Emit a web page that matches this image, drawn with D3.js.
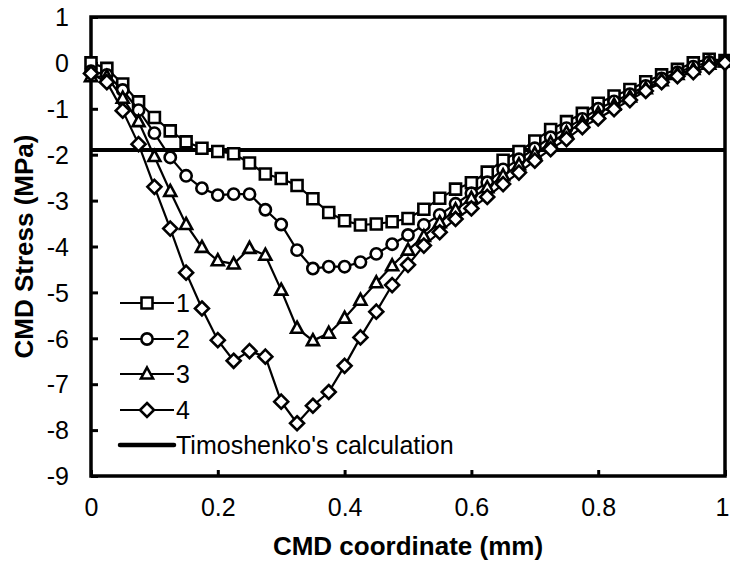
<!DOCTYPE html>
<html>
<head>
<meta charset="utf-8">
<script src="https://cdn.jsdelivr.net/npm/d3@7"></script>
<style>
    body { margin: 0; background: #fff; }
    text { font-family: "Liberation Sans", Arial, sans-serif; fill: #000; }
</style>
</head>
<body>
<svg id="chart"></svg>
<script>
// Data
let xs = [0, 0.025, 0.05, 0.075, 0.1, 0.125, 0.15, 0.175, 0.2, 0.225,
    0.25, 0.275, 0.3, 0.325, 0.35, 0.375, 0.4, 0.425, 0.45, 0.475,
    0.5, 0.525, 0.55, 0.575, 0.6, 0.625, 0.65, 0.675, 0.7, 0.725,
    0.75, 0.775, 0.8, 0.825, 0.85, 0.875, 0.9, 0.925, 0.95, 0.975, 1.0];

let stress1 = [0.0, -0.12, -0.46, -0.85, -1.19, -1.48, -1.72, -1.86, -1.93, -1.98,
    -2.18, -2.42, -2.52, -2.67, -2.96, -3.26, -3.44, -3.53, -3.51, -3.46,
    -3.39, -3.19, -2.95, -2.75, -2.61, -2.38, -2.12, -1.93, -1.7, -1.45,
    -1.28, -1.1, -0.88, -0.72, -0.58, -0.41, -0.26, -0.14, 0.0, 0.08, 0.05];

let stress2 = [-0.18, -0.26, -0.59, -1.03, -1.53, -2.06, -2.46, -2.73, -2.88, -2.86,
    -2.86, -3.2, -3.52, -4.08, -4.48, -4.44, -4.44, -4.34, -4.16, -3.95,
    -3.75, -3.53, -3.31, -3.07, -2.84, -2.6, -2.32, -2.1, -1.86, -1.62,
    -1.42, -1.22, -1.0, -0.84, -0.68, -0.5, -0.34, -0.21, -0.08, 0.02, 0.03];

let stress3 = [-0.3, -0.3, -0.77, -1.28, -2.04, -2.8, -3.52, -4.02, -4.31, -4.38,
    -4.04, -4.19, -4.95, -5.78, -6.05, -5.89, -5.56, -5.17, -4.79, -4.42,
    -4.08, -3.78, -3.48, -3.2, -2.95, -2.72, -2.46, -2.22, -1.98, -1.74,
    -1.52, -1.3, -1.1, -0.92, -0.74, -0.56, -0.39, -0.25, -0.14, -0.03, 0.02];

let stress4 = [-0.23, -0.42, -1.04, -1.77, -2.7, -3.61, -4.57, -5.35, -6.04, -6.49,
    -6.28, -6.4, -7.38, -7.85, -7.47, -7.17, -6.6, -5.98, -5.42, -4.84,
    -4.4, -3.98, -3.69, -3.4, -3.17, -2.92, -2.64, -2.39, -2.13, -1.88,
    -1.66, -1.4, -1.21, -1.01, -0.81, -0.61, -0.42, -0.29, -0.2, -0.08, 0.0];

let timoshenko = -1.9;

let seriesNames = ['1', '2', '3', '4'];
let seriesSymbols = ['square', 'circle', 'triangle', 'diamond'];
let xTicks = [0, 0.2, 0.4, 0.6, 0.8, 1];
let yTicks = [1, 0, -1, -2, -3, -4, -5, -6, -7, -8, -9];

let c = {
    width: 730,
    height: 564,
    plot: { left: 91, right: 725, top: 17, bottom: 476 },
    font: '"Liberation Sans", Arial, sans-serif'
};

let svg = d3.select('#chart')
    .attr('width', c.width)
    .attr('height', c.height);

let x = d3.scaleLinear().domain([0, 1]).range([c.plot.left, c.plot.right]);
let y = d3.scaleLinear().domain([-9, 1]).range([c.plot.bottom, c.plot.top]);

// Axes with inside ticks, plain hyphen for negatives
let xAxis = svg.append('g')
    .attr('transform', translate(0, c.plot.bottom))
    .call(d3.axisBottom(x).tickValues(xTicks).tickSizeInner(-6).tickSizeOuter(0)
        .tickFormat(d => String(d)));
let yAxis = svg.append('g')
    .attr('transform', translate(c.plot.left, 0))
    .call(d3.axisLeft(y).tickValues(yTicks).tickSizeInner(-7).tickSizeOuter(0)
        .tickFormat(d => String(d)));

for (let ax of [xAxis, yAxis]) {
    ax.select('.domain').remove();
    ax.selectAll('.tick line').attr('stroke', '#000').attr('stroke-width', 3);
    ax.selectAll('.tick text')
        .style('font-size', '25px')
        .style('font-family', c.font)
        .attr('fill', '#000');
}
xAxis.selectAll('.tick text').attr('y', 31).attr('dy', '0.35em');
yAxis.selectAll('.tick text').attr('x', -22).attr('dy', '0.35em');

// last x label sits on the page edge: keep it inside
xAxis.selectAll('.tick text')
    .filter(d => d === 1)
    .attr('text-anchor', 'end')
    .attr('x', 4);

// Frame
svg.append('rect')
    .attr('x', c.plot.left)
    .attr('y', c.plot.top)
    .attr('width', c.plot.right - c.plot.left)
    .attr('height', c.plot.bottom - c.plot.top)
    .attr('fill', 'none')
    .attr('stroke', '#000')
    .attr('stroke-width', 3.5);

// Timoshenko line
svg.append('line')
    .attr('x1', c.plot.left)
    .attr('x2', c.plot.right)
    .attr('y1', y(timoshenko))
    .attr('y2', y(timoshenko))
    .attr('stroke', '#000')
    .attr('stroke-width', 4);

/**
 * Path string for one marker centred at 0,0
 */
function markerPath(kind) {
    if (kind === 'square') return 'M-5.5,-5.5H5.5V5.5H-5.5Z';
    if (kind === 'circle') return d3.symbol(d3.symbolCircle, 100)();
    if (kind === 'triangle') return 'M0,-6.5L6,4.5H-6Z';
    return 'M0,-7L7,0L0,7L-7,0Z';
}

let allSeries = [stress1, stress2, stress3, stress4];
let line = d3.line().x((d, i) => x(xs[i])).y(d => y(d));

let plot = svg.append('g');
allSeries.forEach((vals, k) => {
    let g = plot.append('g');
    g.append('path')
        .attr('d', line(vals))
        .attr('fill', 'none')
        .attr('stroke', '#000')
        .attr('stroke-width', 2.2);
    g.selectAll('path.pt')
        .data(vals)
        .join('path')
        .attr('class', 'pt')
        .attr('d', markerPath(seriesSymbols[k]))
        .attr('transform', (d, i) => translate(x(xs[i]), y(d)))
        .attr('fill', '#fff')
        .attr('stroke', '#000')
        .attr('stroke-width', 2.6);
});

// Legend
let legend = svg.append('g');
let legendY = [303, 339, 374, 410, 445];
seriesNames.forEach((name, k) => {
    let ly = legendY[k];
    legend.append('line')
        .attr('x1', 120).attr('x2', 174)
        .attr('y1', ly).attr('y2', ly)
        .attr('stroke', '#000').attr('stroke-width', 2.2);
    legend.append('path')
        .attr('d', markerPath(seriesSymbols[k]))
        .attr('transform', translate(147, ly))
        .attr('fill', '#fff')
        .attr('stroke', '#000')
        .attr('stroke-width', 2.6);
    legend.append('text')
        .attr('x', 176).attr('y', ly)
        .attr('dy', '0.36em')
        .style('font-size', '25px')
        .text(name);
});
legend.append('line')
    .attr('x1', 120).attr('x2', 174)
    .attr('y1', legendY[4]).attr('y2', legendY[4])
    .attr('stroke', '#000').attr('stroke-width', 4.5)
    .attr('stroke-linecap', 'round');
legend.append('text')
    .attr('x', 176).attr('y', legendY[4])
    .attr('dy', '0.36em')
    .style('font-size', '25px')
    .text("Timoshenko's calculation");

// Axis titles
svg.append('text')
    .attr('x', (c.plot.left + c.plot.right) / 2)
    .attr('y', 555)
    .attr('text-anchor', 'middle')
    .style('font-size', '26px')
    .style('font-weight', 'bold')
    .text('CMD coordinate (mm)');

svg.append('text')
    .attr('transform', translate(24, (c.plot.top + c.plot.bottom) / 2) + ' rotate(-90)')
    .attr('text-anchor', 'middle')
    .attr('dy', '0.35em')
    .style('font-size', '26px')
    .style('font-weight', 'bold')
    .text('CMD Stress (MPa)');

function translate(x, y) {
    return 'translate(' + x + ',' + y + ')';
}
</script>
</body>
</html>
